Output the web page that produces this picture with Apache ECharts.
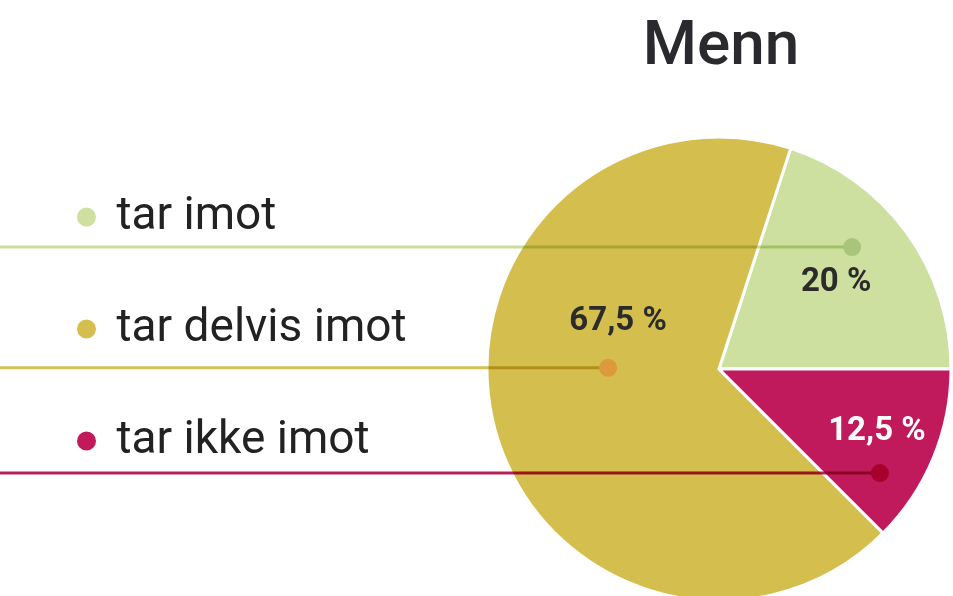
<!DOCTYPE html>
<html>
<head>
<meta charset="utf-8">
<script src="https://cdn.jsdelivr.net/npm/echarts@6/dist/echarts.min.js"></script>
<style>
html,body{margin:0;padding:0;background:#fff;}
#c{width:953px;height:596px;}
</style>
</head>
<body>
<div id="c"></div>
<script>
// ---- data ----
var categories = ['tar imot', 'tar delvis imot', 'tar ikke imot'];
var values = [20, 67.5, 12.5];
var valueLabels = ['20 %', '67,5 %', '12,5 %'];
var titleText = 'Menn';

// ---- styles ----
var sliceColors = ['#cde0a0', '#d4be4e', '#c01a5c'];
var lineColors = ['#cbdc9c', '#d4c256', '#b8205c'];
var dotColors = ['#a9c47b', '#dc9a3c', '#a8002c'];
var labelColors = ['#2b2b2b', '#2b2b2b', '#ffffff'];
// anchor within slice: fraction along slice angle, fraction of radius
var anchorAngleFrac = [0.59, 0.442, 0.269];
var anchorRadiusFrac = [0.778, 0.478, 0.826];
var labelOffset = [[-16, 36], [10, -46], [-3, -41]];

var chart = echarts.init(document.getElementById('c'), null, {renderer: 'canvas'});
var FONT = 'Roboto, "Noto Sans", sans-serif';

var option = {
  animation: false,
  backgroundColor: '#ffffff',
  title: {
    text: titleText,
    left: 716, top: 12,
    textAlign: 'center',
    textStyle: {fontFamily: FONT, fontSize: 62, fontWeight: 500, color: '#2a2a2e'}
  },
  legend: {
    orient: 'vertical',
    left: 70, top: 189,
    icon: 'circle',
    itemWidth: 50, itemHeight: 21,
    itemGap: 66,
    selectedMode: false,
    data: categories,
    textStyle: {fontFamily: FONT, fontSize: 46, lineHeight: 46, color: '#222222'}
  },
  series: [{
    type: 'pie',
    center: [719, 369],
    radius: 232,
    startAngle: 0,
    clockwise: false,
    silent: true,
    label: {show: false},
    labelLine: {show: false},
    itemStyle: {borderColor: '#ffffff', borderWidth: 3},
    data: categories.map(function (c, i) {
      return {name: c, value: values[i], itemStyle: {color: sliceColors[i]}};
    })
  }]
};
chart.setOption(option);

function buildOverlay() {
  var data = chart.getModel().getSeriesByIndex(0).getData();
  var elements = [];
  for (var i = 0; i < categories.length; i++) {
    var L = data.getItemLayout(i);
    var a = L.startAngle + anchorAngleFrac[i] * (L.endAngle - L.startAngle);
    var r = L.r * anchorRadiusFrac[i];
    var x = L.cx + r * Math.cos(a);
    var y = L.cy + r * Math.sin(a);
    elements.push({
      type: 'line', z: 10, silent: true,
      shape: {x1: 0, y1: y, x2: x, y2: y},
      style: {stroke: lineColors[i], lineWidth: 3, blend: 'multiply'}
    });
    elements.push({
      type: 'circle', z: 11, silent: true,
      shape: {cx: x, cy: y, r: 9},
      style: {fill: dotColors[i]}
    });
    elements.push({
      type: 'text', z: 12, silent: true,
      x: x + labelOffset[i][0], y: y + labelOffset[i][1],
      style: {
        text: valueLabels[i], fill: labelColors[i],
        font: 'bold 33px ' + FONT,
        align: 'center', verticalAlign: 'middle'
      }
    });
  }
  chart.setOption({graphic: {elements: elements}});
}
buildOverlay();
</script>
</body>
</html>
